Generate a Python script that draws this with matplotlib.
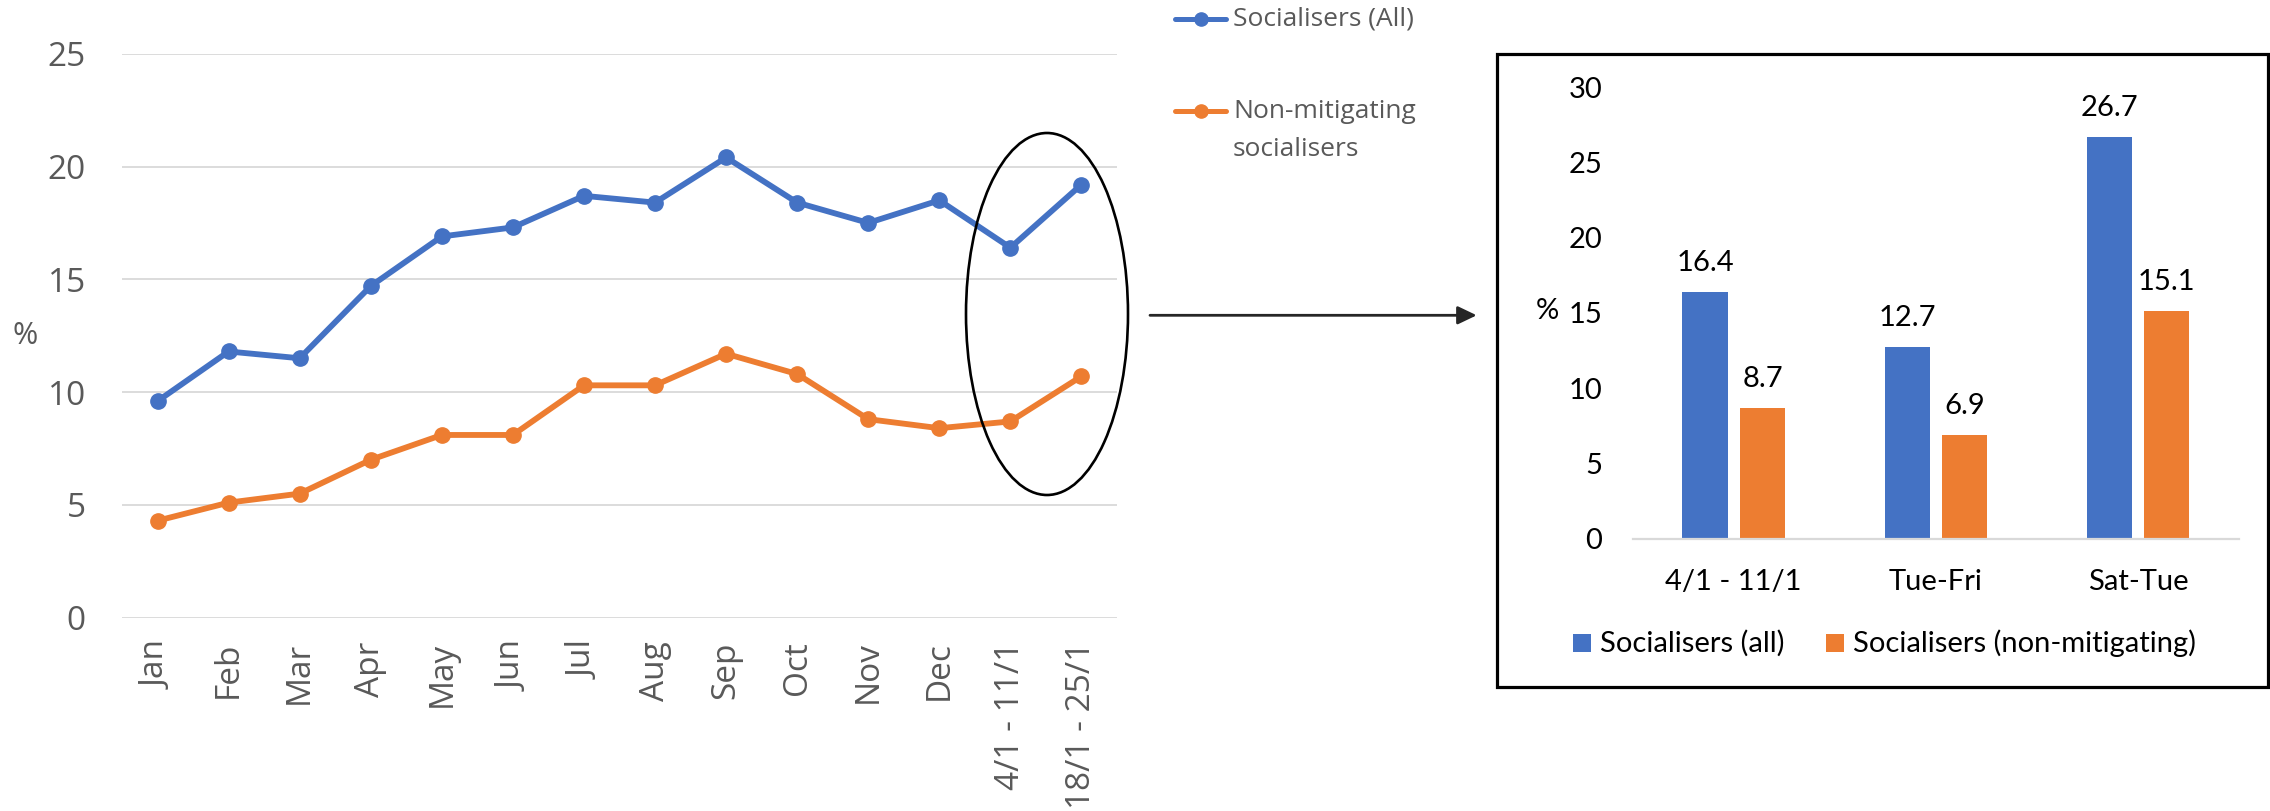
import matplotlib
matplotlib.use("Agg")
import matplotlib.pyplot as plt
import numpy as np
from matplotlib.patches import Ellipse, Rectangle, FancyArrowPatch, ArrowStyle
from matplotlib.lines import Line2D

# ---- data -------------------------------------------------------------
months = ['Jan', 'Feb', 'Mar', 'Apr', 'May', 'Jun', 'Jul', 'Aug', 'Sep',
          'Oct', 'Nov', 'Dec', '4/1 - 11/1', '18/1 - 25/1']
socialisers_all = [9.6, 11.8, 11.5, 14.7, 16.9, 17.3, 18.7, 18.4, 20.4,
                   18.4, 17.5, 18.5, 16.4, 19.2]
non_mitigating = [4.3, 5.1, 5.5, 7.0, 8.1, 8.1, 10.3, 10.3, 11.7,
                  10.8, 8.8, 8.4, 8.7, 10.7]
line_yticks = [0, 5, 10, 15, 20, 25]

periods = ['4/1 - 11/1', 'Tue-Fri', 'Sat-Tue']
bar_all = [16.4, 12.7, 26.7]
bar_non_mitigating = [8.7, 6.9, 15.1]
bar_yticks = [0, 5, 10, 15, 20, 25, 30]

# ---- styling ----------------------------------------------------------
BLUE = '#4472C4'
ORANGE = '#ED7D31'
GRID = '#D9D9D9'
GREY_TXT = '#595959'
W, H = 2270, 811
BAR_FS = 21


def fx(x):
    return x / W


def fy(y):
    return 1 - y / H


fig = plt.figure(figsize=(W / 100, H / 100), dpi=100)

# ---- left: monthly line chart ------------------------------------------
ax1 = fig.add_axes([fx(122), fy(617.7), (1117 - 122) / W, (617.7 - 53.7) / H])
x = np.arange(len(months))
ax1.plot(x, socialisers_all, color=BLUE, lw=4.2, marker='o', ms=11,
         solid_capstyle='round', zorder=3)
ax1.plot(x, non_mitigating, color=ORANGE, lw=4.2, marker='o', ms=11,
         solid_capstyle='round', zorder=3)
ax1.set_xlim(-0.5, len(months) - 0.5)
ax1.set_ylim(0, 25)
ax1.set_yticks(line_yticks)
ax1.set_xticks(x)
ax1.set_xticklabels(months, rotation=90, family='Open Sans', fontsize=24,
                    color=GREY_TXT)
for lab in ax1.get_yticklabels():
    lab.set_family('Open Sans')
ax1.tick_params(axis='y', length=0, pad=26, labelsize=24, labelcolor=GREY_TXT)
ax1.tick_params(axis='x', length=0, pad=17)
ax1.grid(axis='y', color=GRID, lw=1.3)
ax1.set_axisbelow(True)
for s in ax1.spines.values():
    s.set_visible(False)
fig.text(fx(25), fy(336), '%', family='Open Sans', fontsize=22,
         color=GREY_TXT, ha='center', va='center')

# legend of the line chart
for ly, col in ((19.3, BLUE), (110.7, ORANGE)):
    fig.add_artist(Line2D([fx(1175), fx(1226)], [fy(ly), fy(ly)],
                          transform=fig.transFigure, color=col, lw=3.6,
                          solid_capstyle='round'))
    fig.add_artist(Line2D([fx(1200.5)], [fy(ly)], transform=fig.transFigure,
                          color=col, marker='o', ms=9.5, lw=0))
fig.text(fx(1233), fy(19), 'Socialisers (All)', family='Open Sans',
         fontsize=19, color=GREY_TXT, ha='left', va='center')
fig.text(fx(1233), fy(111), 'Non-mitigating', family='Open Sans',
         fontsize=19, color=GREY_TXT, ha='left', va='center')
fig.text(fx(1233), fy(149), 'socialisers', family='Open Sans',
         fontsize=19, color=GREY_TXT, ha='left', va='center')

# highlight of the last two weeks and pointer to the detail panel
fig.add_artist(Ellipse((fx(1047), fy(314)), 162 / W, 362 / H,
                       transform=fig.transFigure, fill=False,
                       ec='black', lw=1.9))
fig.add_artist(FancyArrowPatch((fx(1150), fy(315.3)), (fx(1476.7), fy(315.3)),
                               transform=fig.transFigure,
                               arrowstyle=ArrowStyle('-|>', head_length=11.5,
                                                     head_width=5.5),
                               mutation_scale=1, lw=2, color='#262626',
                               shrinkA=0, shrinkB=0))

# ---- right: weekly bar chart -------------------------------------------
fig.add_artist(Rectangle((fx(1497.3), fy(686.7)), (2268 - 1497.3) / W,
                         (686.7 - 54) / H, transform=fig.transFigure,
                         fill=False, ec='black', lw=2.3))

ax2 = fig.add_axes([fx(1632.7), fy(538.7), (2239 - 1632.7) / W,
                    (538.7 - 87) / H])
xb = np.arange(len(periods))
bw = 0.224
off = 0.142
b1 = ax2.bar(xb - off, bar_all, width=bw, color=BLUE, zorder=2)
b2 = ax2.bar(xb + off, bar_non_mitigating, width=bw, color=ORANGE, zorder=2)
for bars, vals in ((b1, bar_all), (b2, bar_non_mitigating)):
    for rect, v in zip(bars, vals):
        ax2.annotate(f'{v:.1f}', (rect.get_x() + rect.get_width() / 2, v),
                     xytext=(0, 21), textcoords='offset points',
                     ha='center', va='center', family='Lato',
                     fontsize=BAR_FS, color='black')
ax2.set_xlim(-0.5, len(periods) - 0.5)
ax2.set_ylim(0, 30)
ax2.set_yticks(bar_yticks)
ax2.set_xticks(xb)
ax2.set_xticklabels(periods, family='Lato', fontsize=BAR_FS, color='black',
                    va='center')
for lab in ax2.get_yticklabels():
    lab.set_family('Lato')
ax2.tick_params(axis='y', length=0, pad=22, labelsize=BAR_FS,
                labelcolor='black')
ax2.tick_params(axis='x', length=0, pad=31)
for name, s in ax2.spines.items():
    s.set_visible(name == 'bottom')
ax2.spines['bottom'].set_color(GRID)
ax2.spines['bottom'].set_linewidth(1.6)
fig.text(fx(1547), fy(311), '%', family='Lato', fontsize=BAR_FS,
         color='black', ha='center', va='center')

# legend of the bar chart
for sx, col, label in ((1573, BLUE, 'Socialisers (all)'),
                       (1826, ORANGE, 'Socialisers (non-mitigating)')):
    fig.add_artist(Rectangle((fx(sx), fy(652)), 17.7 / W, 18 / H,
                             transform=fig.transFigure, color=col, lw=0))
    fig.text(fx(sx + 27), fy(643), label, family='Lato', fontsize=BAR_FS,
             color='black', ha='left', va='center')

fig.savefig('out.png', dpi=100, facecolor='white')
